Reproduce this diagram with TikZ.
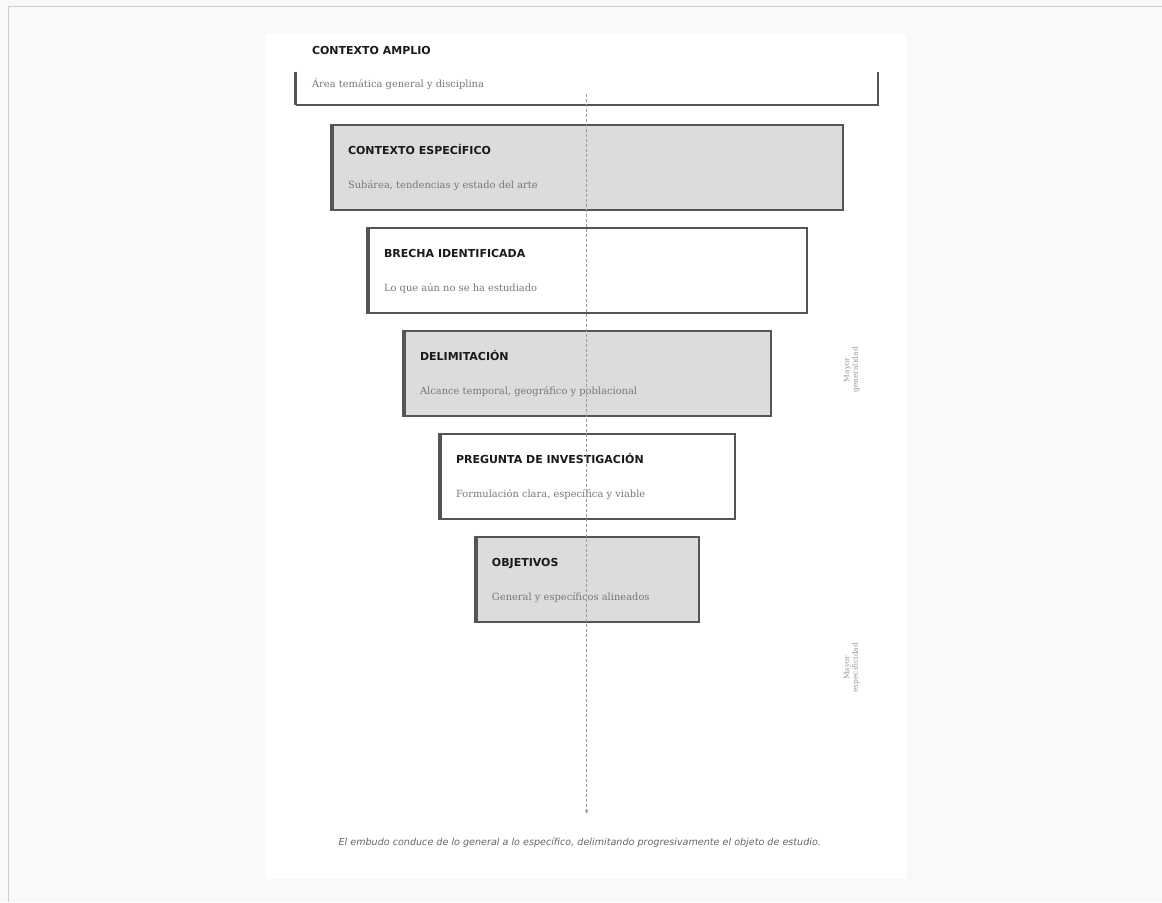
\documentclass[tikz,border=0pt]{standalone}
\usepackage{fontspec}
\setmainfont{DejaVu Serif}
\setsansfont{DejaVu Sans}
\usetikzlibrary{arrows.meta}
\definecolor{pagebg}{HTML}{F9F9F9}
\definecolor{frameln}{HTML}{CCCCCC}
\definecolor{boxline}{HTML}{555555}
\definecolor{boxfill}{HTML}{DCDCDC}
\definecolor{titlec}{HTML}{1A1A1A}
\definecolor{subc}{HTML}{777777}
\definecolor{axisc}{HTML}{999999}
\definecolor{notec}{HTML}{666666}
\tikzset{
  stagebox/.style={draw=boxline, line width=2pt, rectangle, inner sep=0pt,
    anchor=north west, minimum height=85pt},
  graybox/.style={stagebox, fill=boxfill},
  whitebox/.style={stagebox, fill=white},
  leftbar/.style={draw=boxline, line width=3.2pt},
  stagetitle/.style={anchor=base west, inner sep=0pt, text=titlec,
    font=\sffamily\bfseries\fontsize{11}{13}\selectfont},
  stagesub/.style={anchor=base west, inner sep=0pt, text=subc,
    font=\rmfamily\fontsize{9.9}{11}\selectfont},
  sidenote/.style={inner sep=0pt, text=axisc, rotate=90, align=center,
    font=\rmfamily\fontsize{7.5}{8.5}\selectfont},
}
\begin{document}
\begin{tikzpicture}[x=1pt, y=-1pt]
  % canvas and page
  \fill[pagebg] (0,0) rectangle (1162,902);
  \draw[frameln, line width=1pt] (8.5,902) -- (8.5,6.5) -- (1162,6.5);
  \fill[white] (265,34) rectangle (907,879);
  \useasboundingbox (0,0) rectangle (1162,902);

  % wide context: open frame without top edge
  \node[stagetitle] (t1) at (312,55) {CONTEXTO AMPLIO};
  \node[stagesub] (s1) at (312,88) {Área temática general y disciplina};
  \coordinate (a1) at (296,72);
  \coordinate (a2) at (296,105);
  \coordinate (a3) at (878,105);
  \coordinate (a4) at (878,72);
  \draw[boxline, line width=2pt] (a2) -- (a3) -- (a4);
  \draw[leftbar] (a1) -- (a2);

  % funnel stages
  \node[graybox, minimum width=510pt] (b2) at (332,124) {};
  \draw[leftbar] (b2.north west) -- (b2.south west);
  \node[stagetitle] (t2) at (348,155) {CONTEXTO ESPECÍFICO};
  \node[stagesub] (s2) at (348,189) {Subárea, tendencias y estado del arte};

  \node[whitebox, minimum width=438pt] (b3) at (368,227) {};
  \draw[leftbar] (b3.north west) -- (b3.south west);
  \node[stagetitle] (t3) at (384,258) {BRECHA IDENTIFICADA};
  \node[stagesub] (s3) at (384,292) {Lo que aún no se ha estudiado};

  \node[graybox, minimum width=366pt] (b4) at (404,330) {};
  \draw[leftbar] (b4.north west) -- (b4.south west);
  \node[stagetitle] (t4) at (420,361) {DELIMITACIÓN};
  \node[stagesub] (s4) at (420,395) {Alcance temporal, geográfico y poblacional};

  \node[whitebox, minimum width=294pt] (b5) at (440,433) {};
  \draw[leftbar] (b5.north west) -- (b5.south west);
  \node[stagetitle] (t5) at (456,464) {PREGUNTA DE INVESTIGACIÓN};
  \node[stagesub] (s5) at (456,498) {Formulación clara, específica y viable};

  \node[graybox, minimum width=222pt] (b6) at (476,536) {};
  \draw[leftbar] (b6.north west) -- (b6.south west);
  \node[stagetitle] (t6) at (492,567) {OBJETIVOS};
  \node[stagesub] (s6) at (492,601) {General y específicos alineados};

  % central axis
  \coordinate (axtop) at (587,94);
  \coordinate (axbot) at (587,814);
  \draw[axisc, line width=1pt, dash pattern=on 3pt off 2pt,
    -{Stealth[length=4pt, width=4pt]}] (axtop) -- (axbot);

  % side notes
  \node[sidenote] (n1) at (852,370) {Mayor\\generalidad};
  \node[sidenote] (n2) at (852,668) {Mayor\\especificidad};

  % caption
  \node[inner sep=0pt, anchor=base, text=notec,
    font=\sffamily\itshape\fontsize{9.6}{11}\selectfont] (cap) at (580,846)
    {El embudo conduce de lo general a lo específico, delimitando progresivamente el objeto de estudio.};
\end{tikzpicture}
\end{document}
